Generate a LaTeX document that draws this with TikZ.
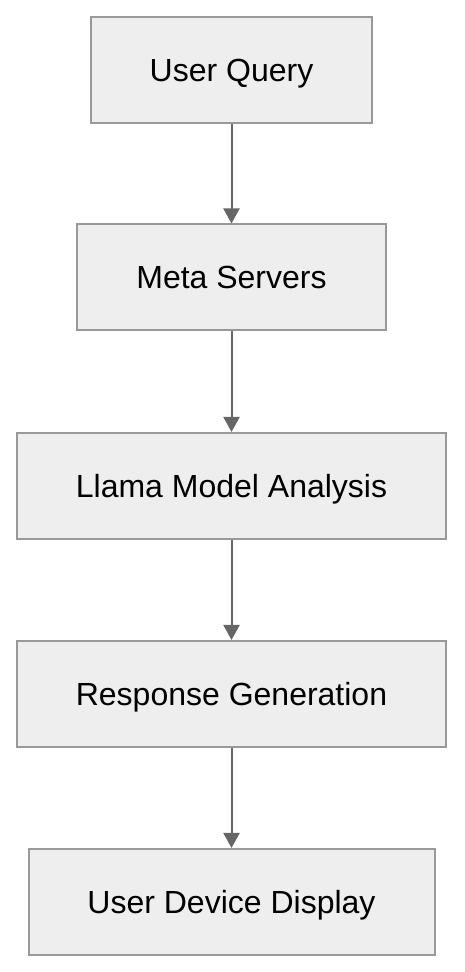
\documentclass[tikz,border=0pt]{standalone}
\usepackage{fontspec}
\setmainfont{Liberation Sans}
\usetikzlibrary{arrows.meta}
\definecolor{boxfill}{HTML}{EEEEEE}
\definecolor{boxline}{HTML}{999999}
\definecolor{arrowline}{HTML}{666666}
\tikzset{
	stage/.style={draw=boxline, fill=boxfill, line width=2pt, minimum height=106pt,
		text height=23pt, text depth=0pt, font=\fontsize{32}{38}\selectfont},
	flow/.style={draw=arrowline, line width=2pt, -{Triangle[width=16pt,length=15pt]}}
}

\begin{document}
\begin{tikzpicture}[x=1pt,y=1pt]
	\useasboundingbox (0,0) rectangle (464,972);
	\node[stage, minimum width=281pt] (Q) at (231.5,902) {User Query};
	\node[stage, minimum width=309pt] (S) at (231.5,694.5) {Meta Servers};
	\node[stage, minimum width=429pt] (A) at (231.5,486) {Llama Model Analysis};
	\node[stage, minimum width=429pt] (G) at (231.5,278) {Response Generation};
	\node[stage, minimum width=406pt] (D) at (231.5,70) {User Device Display};
	\draw[flow] (Q) -- (S);
	\draw[flow] (S) -- (A);
	\draw[flow] (A) -- (G);
	\draw[flow] (G) -- (D);
\end{tikzpicture}
\end{document}
